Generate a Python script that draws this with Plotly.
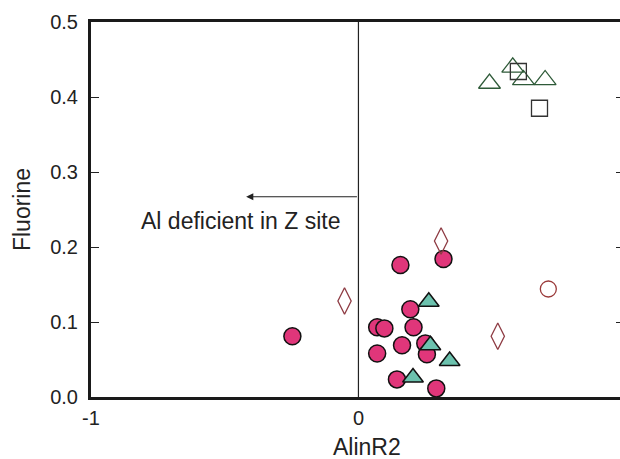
import plotly.graph_objects as go

# Filled circles (pink)
circ_x = [0.157, 0.318, 0.194, 0.070, 0.097, 0.206, 0.163, 0.070, 0.250, 0.256, 0.144, 0.291, -0.247]
circ_y = [0.176, 0.184, 0.117, 0.093, 0.0915, 0.093, 0.069, 0.058, 0.0715, 0.057, 0.0235, 0.0115, 0.081]
# Filled triangles (teal)
tri_x = [0.263, 0.269, 0.341, 0.204]
tri_y = [0.127, 0.069, 0.048, 0.026]
# Open diamonds
dia_x = [-0.052, 0.309, 0.521]
dia_y = [0.128, 0.208, 0.081]
# Open circle
ocirc_x = [0.710]
ocirc_y = [0.144]
# Open triangles
otri_x = [0.490, 0.577, 0.617, 0.698]
otri_y = [0.418, 0.4395, 0.4227, 0.4227]
# Open squares
osq_x = [0.598, 0.677]
osq_y = [0.434, 0.385]

y_ticks = [0.0, 0.1, 0.2, 0.3, 0.4, 0.5]
x_ticks = [-1, 0, 1]

FONT = "Liberation Sans, Arial"

fig = go.Figure()
fig.add_trace(go.Scatter(x=circ_x, y=circ_y, mode="markers",
    marker=dict(symbol="circle", size=17, color="#e0367a", line=dict(color="#111", width=1.5))))
fig.add_trace(go.Scatter(x=tri_x, y=tri_y, mode="markers",
    marker=dict(symbol="triangle-up", size=18, color="#6cc2ae", line=dict(color="#111", width=1.5))))
fig.add_trace(go.Scatter(x=dia_x, y=dia_y, mode="markers",
    marker=dict(symbol="diamond-tall-open", size=19, color="#8e3b43", line=dict(width=1.3))))
fig.add_trace(go.Scatter(x=ocirc_x, y=ocirc_y, mode="markers",
    marker=dict(symbol="circle-open", size=16, color="#9a3a3a", line=dict(width=1.3))))
fig.add_trace(go.Scatter(x=otri_x, y=otri_y, mode="markers",
    marker=dict(symbol="triangle-up-open", size=19, color="#2e5a38", line=dict(width=1.3))))
fig.add_trace(go.Scatter(x=osq_x, y=osq_y, mode="markers",
    marker=dict(symbol="square-open", size=16, color="#333333", line=dict(width=1.3))))

# Right-side mirrored ticks via an overlay axis (no line)
fig.add_trace(go.Scatter(x=[None], y=[None], yaxis="y2", showlegend=False))

fig.add_shape(type="line", xref="x", yref="paper", x0=0, x1=0, y0=0, y1=1,
              line=dict(color="#222", width=1.2), layer="below")
fig.add_annotation(x=-0.42, y=0.267, ax=0, ay=0.267, xref="x", yref="y", axref="x", ayref="y",
                   text="", showarrow=True, arrowhead=2, arrowsize=1.2, arrowwidth=1.2, arrowcolor="#222")
fig.add_annotation(x=-0.44, y=0.235, xref="x", yref="y", text="Al deficient in Z site",
                   showarrow=False, font=dict(size=23, color="#222", family=FONT))
# x-axis title
fig.add_annotation(x=0.522, y=-0.133, xref="paper", yref="paper", text="AlinR2",
                   showarrow=False, yanchor="middle", xanchor="center",
                   font=dict(size=23, color="#222", family=FONT))

fig.update_layout(
    width=620, height=459,
    margin=dict(l=91, r=0, t=22, b=62),
    plot_bgcolor="white", paper_bgcolor="white",
    showlegend=False,
    font=dict(family=FONT, color="#222", size=20),
    xaxis=dict(range=[-1, 0.978], tickvals=x_ticks, ticktext=["-1", "0", "1"],
               ticks="inside", ticklen=8, tickwidth=1.2, tickcolor="#222",
               showline=True, linewidth=3, linecolor="#1a1a1a", mirror=True,
               showgrid=False, zeroline=False, ticklabelstandoff=1,
               tickfont=dict(size=20)),
    yaxis=dict(range=[0, 0.5], tickvals=y_ticks, tickformat=".1f",
               ticks="inside", ticklen=8, tickwidth=1.2, tickcolor="#222",
               showline=True, linewidth=3, linecolor="#1a1a1a",
               showgrid=False, zeroline=False, ticklabelstandoff=6,
               title=dict(text="Fluorine", font=dict(size=23), standoff=14),
               tickfont=dict(size=20)),
    yaxis2=dict(range=[0, 0.5], overlaying="y", side="right", anchor="x",
                tickvals=[0.1, 0.2, 0.3, 0.4], showticklabels=False,
                ticks="inside", ticklen=4, tickwidth=1.2, tickcolor="#222",
                showline=False, showgrid=False, zeroline=False),
)

fig.write_html("out.html")
